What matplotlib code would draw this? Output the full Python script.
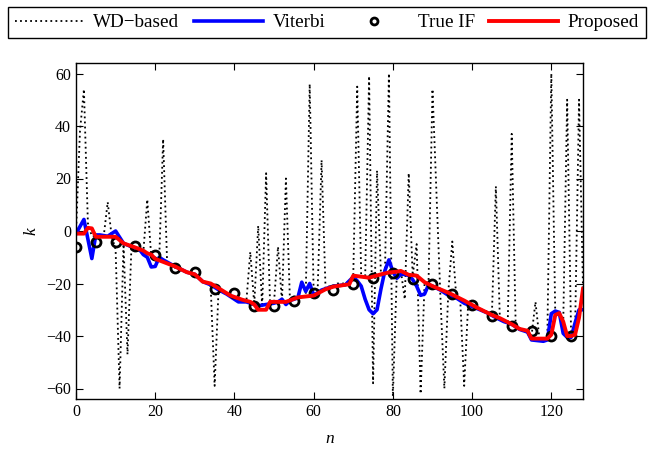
import matplotlib
matplotlib.use('Agg')
import matplotlib.pyplot as plt
from matplotlib.lines import Line2D

plt.rcParams['font.family'] = ['Liberation Serif', 'DejaVu Serif']

# WD-based estimate (sample n, frequency bin k)
n_wd = list(range(0, 129))
k_wd = [-1, 38, 54, 3, -2, -2, -2, -2, 11, -2,
        -7, -60, -5, -47, -6, -7, -8, -8, 12, -10,
        -10, -11, 35, -12, -13, -14, -15, -15, -16, -16,
        -17, -18, -19, -20, -21, -59, -22, -23, -24, -25,
        -25, -26, -27, -27, -8, -28, 2, -29, 22, -28,
        -27, -6, -27, 20, -26, -25, -25, -25, -25, 56,
        -24, -23, 27, -22, -21, -21, -20, -20, -20, -19,
        -17, 55, -17, -18, 59, -58, 23, -17, -16, 60,
        -63, -16, -15, -26, 22, -17, -5, -62, -20, -20,
        54, 15, -25, -60, -23, -4, -25, -26, -59, -28,
        -28, -29, -30, -30, -31, -32, 17, -33, -34, -35,
        37, -36, -37, -38, -38, -40, -27, -41, -41, -40,
        60, -32, -32, -36, 50, -40, -38, 50, -22]

# Viterbi
n_vit = [0, 2, 4, 5, 6, 8, 10, 12, 14, 16, 17, 18, 19, 20, 21, 22, 25, 28, 30, 32,
         34, 36, 38, 39, 41, 43, 44, 46, 48, 50, 51, 52, 53, 54, 56, 57, 58, 59, 60, 62,
         63, 65, 68, 70, 71, 72, 73, 74, 75, 76, 77, 78, 79, 80, 81, 82, 83, 84, 85, 86,
         87, 88, 89, 90, 92, 94, 96, 98, 100, 102, 104, 106, 108, 110, 112, 113, 114, 115, 118, 119,
         120, 121, 122, 123, 124, 125, 126, 127, 128]
k_vit = [-1, 4.4, -10.5, -1.5, -1.5, -2, 0, -4.7, -6, -7, -9, -10, -13.7, -13.5, -10, -11, -13.5, -15.7, -16.5, -19.3,
         -20.5, -22.4, -24, -25, -27, -27, -27.5, -28.5, -28, -27.5, -27, -26, -28, -26.5, -25.5, -19.5, -23, -20, -24.5, -22.5,
         -22, -21, -20.5, -17.5, -19, -21, -26, -30, -31.5, -30, -22, -15, -11, -15.5, -18, -16.5, -16.5, -17, -18.5, -21,
         -24.5, -24, -20.5, -21, -22.5, -24.5, -25.5, -27.5, -28.8, -30, -31.3, -33, -34.5, -35.5, -37.5, -38, -38.5, -41.5, -42, -41.5,
         -31.5, -30.5, -31, -39, -40.5, -40.5, -35, -30, -30]

# True IF
n_true = list(range(0, 126, 5))
k_true = [-6, -4, -4, -5.6, -9, -14, -15.5, -22, -23.7, -28.4,
          -28.4, -26.5, -23.7, -22.4, -20, -18, -16, -18.2, -20, -24,
          -28, -32.5, -36, -38, -40, -40]

# Proposed
n_prop = [0, 2, 3, 4, 5, 10, 12, 15, 17, 18, 19, 20, 25, 28, 30, 32, 34, 36, 39, 42,
          44, 45, 46, 48, 49, 53, 56, 60, 63, 65, 68, 69, 70, 72, 74, 77, 79, 81, 82, 84,
          86, 88, 90, 94, 98, 101, 105, 107, 110, 112, 114, 115, 119, 120, 121, 122, 123, 124, 125, 126,
          127, 128]
k_prop = [-1, -1, 1.2, 1.0, -2.2, -2.2, -4.7, -6.3, -7.5, -8.5, -9, -10.6, -13.5, -15.7, -16.5, -19.3, -20, -21.8, -24.6, -26.2,
          -27, -28, -30, -30, -27, -27, -25.3, -24.6, -22.2, -21.2, -20.5, -20.3, -17, -17.4, -17.8, -16.5, -15.8, -15.5, -15.2, -16.7,
          -17, -19.5, -21, -23.5, -26.5, -29, -32, -33.2, -35.5, -37.3, -38, -41, -41, -39.5, -32, -31.3, -34.5, -40, -40, -39.5,
          -33, -22]

fig = plt.figure(figsize=(6.48, 4.5), dpi=100)
ax = fig.add_axes([76/648, 1-399/450, 507/648, 336/450])

ax.plot(n_wd, k_wd, color='black', linestyle=(0, (1, 1.8)), linewidth=1.3)
ax.plot(n_vit, k_vit, color='#0000ff', linewidth=2.6)
ax.plot(n_true, k_true, linestyle='none', marker='o', markersize=6.5,
        markerfacecolor='none', markeredgecolor='black', markeredgewidth=2)
ax.plot(n_prop, k_prop, color='#ff0000', linewidth=2.8)

ax.set_xlim(0, 128)
ax.set_ylim(-64, 64)
ax.set_xticks(range(0, 121, 20))
ax.set_yticks(range(-60, 61, 20))
ax.set_yticklabels(['\u221260', '\u221240', '\u221220', '0', '20', '40', '60'])
ax.tick_params(direction='in', length=5, width=0.8, top=True, right=True,
               labelsize=11.5, colors='black')
for s in ax.spines.values():
    s.set_linewidth(1)
ax.set_xlabel('n', fontsize=12.5, fontstyle='italic', labelpad=8)
ax.set_ylabel('k', fontsize=12.5, fontstyle='italic', labelpad=5)

handles = [
    Line2D([], [], color='black', linestyle=(0, (1, 1.8)), linewidth=1.3),
    Line2D([], [], color='#0000ff', linewidth=2.6),
    Line2D([], [], linestyle='none', marker='o', markersize=5, markerfacecolor='none',
           markeredgecolor='black', markeredgewidth=2),
    Line2D([], [], color='#ff0000', linewidth=2.8),
]
labels = ['WD\u2212based', 'Viterbi', 'True IF', 'Proposed']
leg = fig.legend(handles, labels, loc='lower left',
                 bbox_to_anchor=(8/648, 1-38/450, 638/648, 33/450), mode='expand',
                 ncol=4, fontsize=13.8, handlelength=3.6, handletextpad=0.5,
                 borderpad=0.35, borderaxespad=0, fancybox=False, framealpha=1,
                 edgecolor='black')
leg.get_frame().set_linewidth(1)

fig.savefig('out.png', dpi=100)
